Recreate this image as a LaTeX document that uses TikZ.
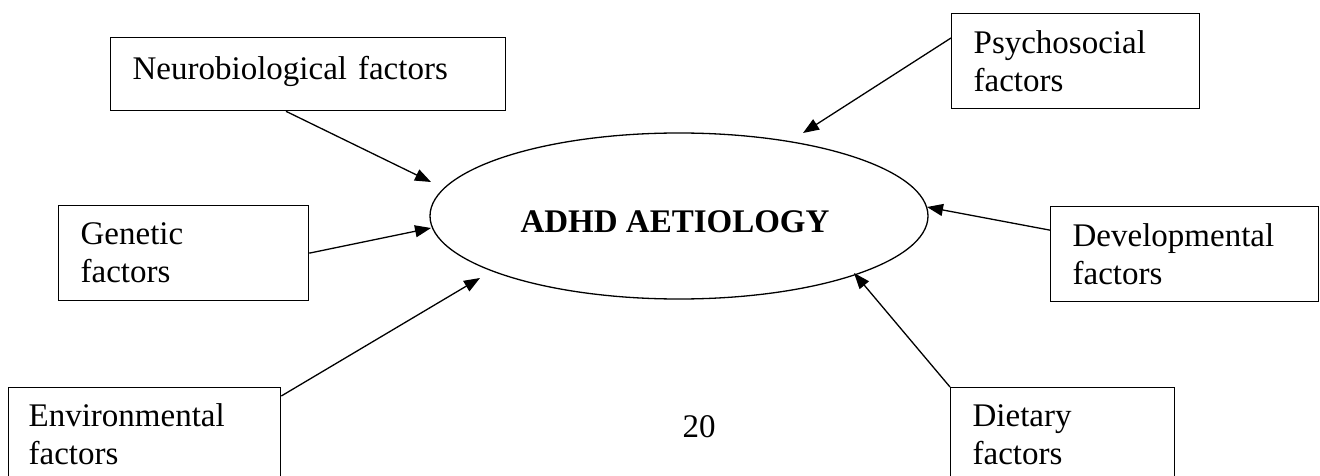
\documentclass[tikz,border=0pt]{standalone}
\usepackage{fontspec}
\setmainfont{Liberation Serif}
\usetikzlibrary{shapes.geometric,arrows.meta}
\begin{document}
\begin{tikzpicture}[x=1pt,y=-1pt,
  every node/.style={font=\fontsize{33}{38}\selectfont},
  factorbox/.style={draw,line width=1.3pt,rectangle,anchor=north west,align=left,inner ysep=0pt,inner xsep=#1},
  factorbox/.default=22pt,
  link/.style={line width=1.3pt,-{Triangle[length=16pt,width=12pt]}}]
\useasboundingbox (0,0) rectangle (1320,476);
\clip (0,0) rectangle (1320,476);
\fill[white] (0,0) rectangle (1320,476);
\node[draw,line width=1.3pt,ellipse,minimum width=498pt,minimum height=166pt,inner sep=0pt] (adhd) at (679,216) {};
\node[font=\fontsize{33}{38}\selectfont\bfseries] (title) at (675,222) {ADHD AETIOLOGY};
\node[factorbox=22pt,minimum width=395pt,minimum height=73pt,text width=351pt,text depth=13.5pt] (neuro) at (110,37) {Neurobiological factors};
\node[factorbox=22pt,minimum width=250pt,minimum height=95pt,text width=206pt] (gen) at (58,205) {Genetic\\factors};
\node[factorbox=20pt,minimum width=272pt,minimum height=94pt,text width=232pt] (env) at (8,387) {Environmental\\factors};
\node[factorbox=22pt,minimum width=248pt,minimum height=95pt,text width=204pt] (psy) at (951,13) {Psychosocial\\factors};
\node[factorbox=22pt,minimum width=268pt,minimum height=95pt,text width=224pt] (dev) at (1050,206) {Developmental\\factors};
\node[factorbox=22pt,minimum width=224pt,minimum height=94pt,text width=180pt] (diet) at (950,387) {Dietary\\factors};
\node (page) at (699,427) {20};
\coordinate (tN) at (431,182);
\coordinate (tG) at (431,228);
\coordinate (tE) at (480,278);
\coordinate (tP) at (803,133);
\coordinate (tD) at (927,207);
\coordinate (tDi) at (854,273);
\draw[link] ([xshift=176pt]neuro.south west) -- (tN);
\draw[link] (gen.east) -- (tG);
\draw[link] ([yshift=-9pt]env.north east) -- (tE);
\draw[link] ([yshift=-25pt]psy.north west) -- (tP);
\draw[link] ([yshift=24pt]dev.west) -- (tD);
\draw[link] (diet.north west) -- (tDi);
\end{tikzpicture}
\end{document}
